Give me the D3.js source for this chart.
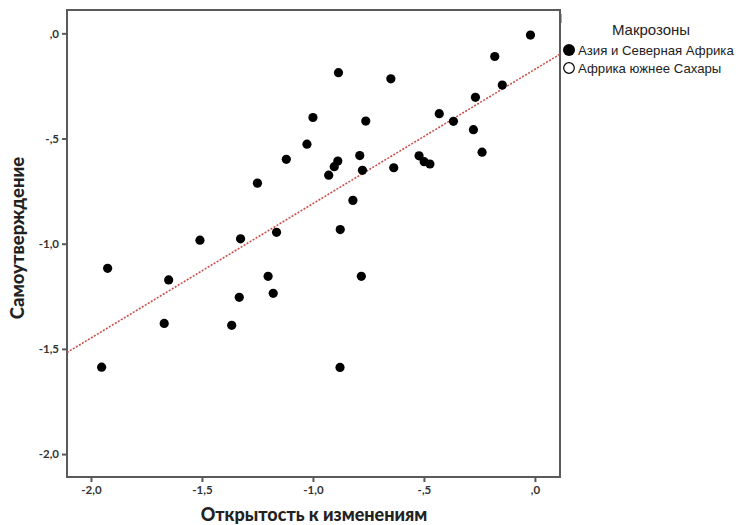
<!DOCTYPE html>
<html>
<head>
<meta charset="utf-8">
<script src="https://cdn.jsdelivr.net/npm/d3@7"></script>
<style>
  html, body { margin: 0; padding: 0; background: #fff; }
  svg { display: block; }
</style>
</head>
<body>
<svg id="chart" width="740" height="525"></svg>
<script>
// ---- data ----
const openness = [
  -0.020, -0.181, -0.147, -0.268, -0.431, -0.367, -0.277, -0.238,
  -0.522, -0.499, -0.473, -0.649, -0.762, -0.885, -1.000, -1.027,
  -1.120, -0.888, -0.904, -0.929, -0.789, -0.777, -0.636, -0.820,
  -0.877, -1.164, -1.250, -1.509, -1.326, -1.925, -1.650, -1.202,
  -1.332, -1.179, -1.670, -1.366, -1.952, -0.878, -0.782
];
const selfEnhancement = [
  -0.008, -0.110, -0.246, -0.304, -0.382, -0.418, -0.458, -0.565,
  -0.582, -0.610, -0.621, -0.216, -0.417, -0.187, -0.400, -0.527,
  -0.599, -0.607, -0.634, -0.674, -0.581, -0.651, -0.639, -0.794,
  -0.933, -0.946, -0.712, -0.983, -0.977, -1.117, -1.172, -1.155,
  -1.255, -1.236, -1.379, -1.388, -1.587, -1.588, -1.155
];
const xTicks = [-2.0, -1.5, -1.0, -0.5, 0.0];
const yTicks = [0.0, -0.5, -1.0, -1.5, -2.0];
const xTickLabels = ["-2,0", "-1,5", "-1,0", "-,5", ",0"];
const yTickLabels = [",0", "-,5", "-1,0", "-1,5", "-2,0"];
const fitSlope = 0.6386;
const fitIntercept = -0.171;
const legendTitle = "Макрозоны";
const legendItems = ["Азия и Северная Африка", "Африка южнее Сахары"];
const xTitle = "Открытость к изменениям";
const yTitle = "Самоутверждение";

// ---- layout ----
const svg = d3.select("#chart");
const L = 67, R = 560, T = 10, B = 477;
const x = d3.scaleLinear().domain([-2.108, 0.113]).range([L, R]);
const y = d3.scaleLinear().domain([-2.109, 0.111]).range([B, T]);

const axisColor = "#5a5a5a";
const tickFont = "Lato, 'Open Sans', sans-serif";

// frame
svg.append("rect")
  .attr("x", L).attr("y", T).attr("width", R - L).attr("height", B - T)
  .attr("fill", "none").attr("stroke", axisColor).attr("stroke-width", 2);

// small orange mark at top right
svg.append("line")
  .attr("x1", R + 1.5).attr("x2", R + 1.5).attr("y1", 14).attr("y2", 23)
  .attr("stroke", "#e8a040").attr("stroke-width", 1);

// x axis
const xAxis = d3.axisBottom(x).tickValues(xTicks)
  .tickFormat((d, i) => xTickLabels[i]).tickSize(5).tickPadding(4);
const gx = svg.append("g").attr("transform", `translate(0,${B})`).call(xAxis);
gx.select(".domain").remove();
gx.selectAll(".tick line").attr("stroke", axisColor).attr("stroke-width", 2);
gx.selectAll(".tick text").attr("fill", "#333").style("font-family", tickFont)
  .style("font-size", "11.5px").style("font-weight", "bold");

// y axis
const yAxis = d3.axisLeft(y).tickValues(yTicks)
  .tickFormat((d, i) => yTickLabels[i]).tickSize(5).tickPadding(3);
const gy = svg.append("g").attr("transform", `translate(${L},0)`).call(yAxis);
gy.select(".domain").remove();
gy.selectAll(".tick line").attr("stroke", axisColor).attr("stroke-width", 2);
gy.selectAll(".tick text").attr("fill", "#333").style("font-family", tickFont)
  .style("font-size", "11.5px").style("font-weight", "bold");

// fit line
const xd = x.domain();
svg.append("line")
  .attr("x1", x(xd[0])).attr("y1", y(fitIntercept + fitSlope * xd[0]))
  .attr("x2", x(xd[1])).attr("y2", y(fitIntercept + fitSlope * xd[1]))
  .attr("stroke", "#c9504a").attr("stroke-width", 1.6)
  .attr("stroke-dasharray", "2,1.5");

// points
svg.append("g").selectAll("circle")
  .data(openness.map((v, i) => [v, selfEnhancement[i]]))
  .join("circle")
  .attr("cx", d => x(d[0])).attr("cy", d => y(d[1]))
  .attr("r", 4.6).attr("fill", "#000");

// axis titles
svg.append("text")
  .attr("x", 314).attr("y", 521)
  .attr("text-anchor", "middle")
  .style("font-family", tickFont).style("font-size", "18px").style("font-weight", "900")
  .attr("fill", "#222").text(xTitle);
svg.append("text")
  .attr("transform", `translate(24,238) rotate(-90)`)
  .attr("text-anchor", "middle")
  .style("font-family", tickFont).style("font-size", "18.5px").style("font-weight", "900")
  .attr("fill", "#222").text(yTitle);

// legend
const lg = svg.append("g");
lg.append("text").attr("x", 651).attr("y", 35).attr("text-anchor", "middle")
  .style("font-family", "'Liberation Sans', Arial, sans-serif").style("font-size", "15px")
  .attr("fill", "#222").text(legendTitle);
lg.append("circle").attr("cx", 569).attr("cy", 50).attr("r", 6).attr("fill", "#000");
lg.append("circle").attr("cx", 569).attr("cy", 68).attr("r", 5.3)
  .attr("fill", "#fff").attr("stroke", "#000").attr("stroke-width", 1.2);
lg.selectAll("text.item").data(legendItems).join("text").attr("class", "item")
  .attr("x", 578).attr("y", (d, i) => 54.5 + i * 18)
  .style("font-family", "'Liberation Sans', Arial, sans-serif").style("font-size", "13.2px")
  .attr("fill", "#222").text(d => d);
</script>
</body>
</html>
